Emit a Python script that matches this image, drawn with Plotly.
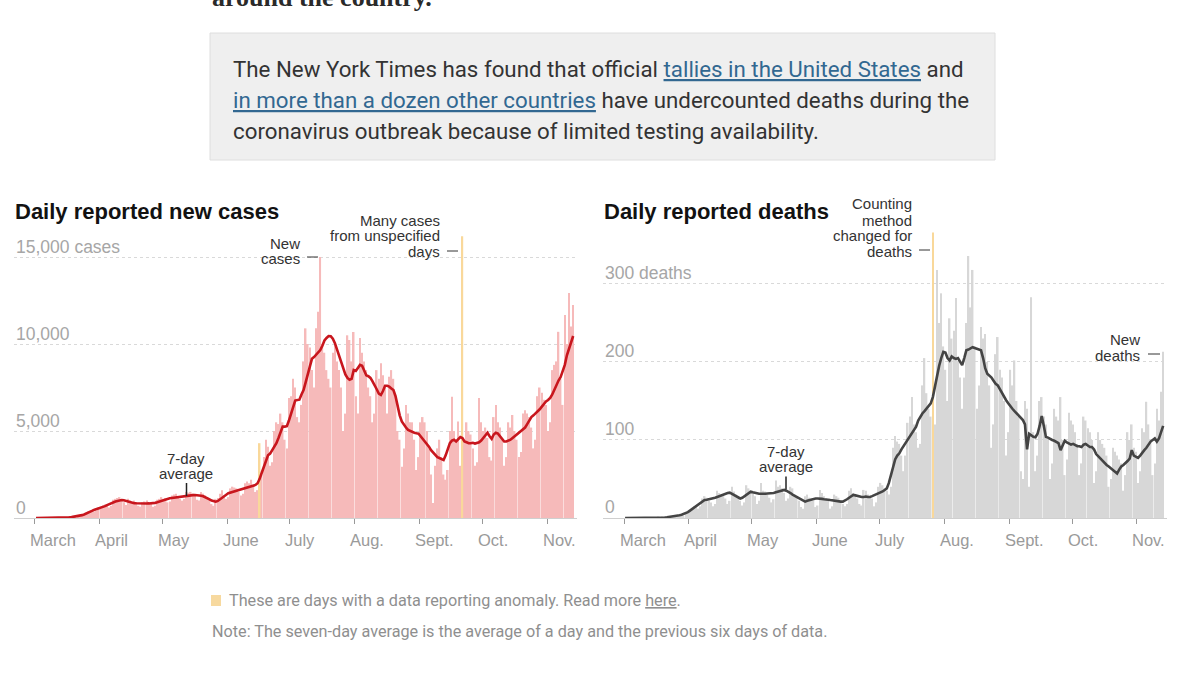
import pandas as pd
import plotly.graph_objects as go

# ---------------- data (daily, starting Sunday 2020-03-01) ----------------
start_date = "2020-03-01"

cases_daily = [
    0, 0, 0, 0, 2, 3, 5,
    3, 4, 8, 10, 15, 20, 30,
    15, 20, 45, 60, 80, 120, 140,
    100, 140, 230, 300, 370, 400, 450,
    380, 420, 600, 650, 720, 780, 800,
    600, 700, 1050, 1100, 1150, 1200, 1000,
    900, 750, 1100, 1000, 900, 1000, 900,
    700, 650, 900, 950, 1000, 900, 800,
    650, 700, 1050, 1100, 1200, 1100, 1150,
    900, 950, 1300, 1350, 1400, 1250, 1100,
    1000, 1100, 1500, 1450, 1500, 1400, 1300,
    1050, 1000, 1500, 1400, 1300, 1200, 1100,
    800, 700, 1100, 1150, 1400, 1600, 1300,
    1100, 1200, 1700, 1800, 1750, 1700, 1500,
    1300, 1400, 2000, 2100, 2000, 2200, 1900,
    1500, 1600, 4300, 2500, 3500, 4500, 4100,
    3000, 3200, 5000, 5500, 5400, 6000, 5500,
    4500, 4000, 6900, 7000, 8000, 7500, 5800,
    5500, 6500, 9000, 10900, 10000, 9800, 8500,
    7500, 10900, 11860, 15000, 10000, 9500, 8500,
    8000, 7500, 9500, 10000, 9000, 8500, 7500,
    5000, 6000, 10500, 10230, 9000, 10690, 7000,
    6000, 10340, 9500, 9000, 8500, 7500, 7000,
    5500, 6000, 8500, 8000, 8900, 8200, 7500,
    6000, 8120, 8500, 8000, 7000, 5000, 4500,
    2950, 4000, 6500, 6000, 5500, 5500, 4500,
    2760, 3500, 5500, 5800, 5500, 5000, 4000,
    2500, 860, 3000, 4000, 4500, 3500, 2500,
    2200, 2760, 5000, 6970, 5000, 4500, 5540,
    3000, 16200, 4500, 5500, 5000, 4800, 4000,
    3000, 3200, 6900, 5500, 5000, 5200, 4600,
    3500, 3300, 5800, 6500, 5500, 5200, 4500,
    3000, 3500, 5500, 5200, 5920, 5000, 4500,
    3500, 3800, 6000, 6200, 6000, 5800, 5200,
    4000, 4500, 7000, 7500, 7200, 6800, 6500,
    5000, 5500, 8500, 8800, 9000, 10700, 8000,
    6500, 11670, 10000, 12930, 11000, 12240,
]

cases_avg = [
    0, 0, 0, 0, 1, 2, 3,
    4, 5, 6, 8, 12, 16, 20,
    24, 30, 38, 50, 65, 82, 100,
    130, 165, 205, 250, 300, 360, 420,
    480, 520, 545, 565, 620, 680, 740,
    800, 860, 910, 950, 980, 1010, 1030,
    1020, 990, 950, 900, 860, 850, 845,
    835, 830, 828, 830, 835, 838, 840,
    850, 870, 900, 940, 1000, 1040, 1080,
    1110, 1130, 1150, 1170, 1185, 1200, 1215,
    1230, 1245, 1260, 1280, 1300, 1315, 1320,
    1315, 1300, 1280, 1250, 1200, 1140, 1070,
    1000, 960, 940, 980, 1080, 1180, 1260,
    1340, 1420, 1460, 1500, 1540, 1570, 1600,
    1630, 1660, 1700, 1740, 1780, 1820, 1860,
    1900, 2000, 2250, 2600, 2950, 3300, 3600,
    3700, 3900, 4100, 4300, 4600, 4950, 5250,
    5250, 5280, 5600, 6000, 6400, 6750, 6780,
    6800, 7100, 7350, 7800, 8300, 8800, 9150,
    9250, 9400, 9500, 9650, 9900, 10200, 10350,
    10460, 10450, 10300, 10050, 9700, 9300, 8900,
    8550, 8250, 8050, 7950, 8000, 8500, 8450,
    8650, 8800, 8750, 8500, 8200, 8150, 8050,
    7850, 7650, 7400, 7150, 7070, 7300, 7600,
    7600, 7550, 7450, 7350, 7000, 6400, 5900,
    5550, 5350, 5200, 5060, 5000, 4950, 4900,
    4870, 4850, 4700, 4550, 4400, 4300, 4100,
    3900, 3750, 3600, 3500, 3450, 3400, 3330,
    3600, 4000, 4300, 4450, 4500, 4400, 4550,
    4650, 4600, 4400, 4350, 4300, 4300, 4320,
    4280, 4300, 4350, 4450, 4600, 4750, 4900,
    4700, 4550, 4800, 4900, 4850, 4700, 4500,
    4400, 4400, 4450, 4500, 4600, 4700, 4750,
    4850, 4950, 5060, 5200, 5400, 5600, 5800,
    5900, 6000, 6100, 6250, 6400, 6550, 6700,
    6780, 6900, 7100, 7400, 7700, 7900, 8100,
    8400, 8800, 9350, 9700, 10100, 10460,
]

deaths_daily = [
    0, 0, 0, 0, 0, 0, 0,
    0, 0, 0, 0, 0, 0, 0,
    0, 0, 1, 0, 1, 1, 1,
    1, 2, 2, 3, 3, 4, 5,
    3, 5, 8, 10, 12, 15, 16,
    12, 15, 25, 28, 26, 22, 20,
    15, 18, 35, 32, 30, 28, 25,
    18, 22, 40, 34, 30, 28, 22,
    16, 20, 42, 38, 35, 33, 28,
    18, 22, 45, 35, 34, 30, 26,
    20, 24, 48, 40, 42, 38, 32,
    22, 25, 40, 38, 30, 28, 22,
    14, 12, 28, 30, 26, 25, 22,
    14, 16, 36, 32, 28, 25, 22,
    12, 15, 30, 28, 26, 22, 18,
    15, 18, 35, 38, 32, 30, 25,
    18, 16, 36, 35, 30, 28, 25,
    15, 20, 40, 45, 42, 38, 35,
    30, 40, 90, 105, 98, 95, 80,
    60, 80, 122, 130, 155, 120, 110,
    90, 95, 170, 205, 160, 140, 130,
    675, 120, 318, 250, 288, 220, 190,
    150, 256, 230, 240, 282, 200, 180,
    140, 180, 250, 336, 270, 318, 220,
    140, 170, 245, 230, 236, 200, 170,
    90, 120, 210, 232, 190, 180, 150,
    80, 110, 190, 170, 202, 150, 130,
    60, 50, 150, 140, 40, 283, 110,
    60, 80, 150, 155, 130, 120, 100,
    50, 70, 140, 130, 125, 155, 100,
    55, 75, 135, 125, 120, 110, 95,
    55, 70, 130, 125, 115, 110, 100,
    45, 60, 110, 100, 95, 90, 80,
    40, 50, 90, 85, 80, 75, 70,
    35, 55, 110, 100, 120, 90, 85,
    45, 60, 115, 110, 149, 120, 100,
    55, 70, 140, 125, 162, 213,
]

deaths_avg = [
    0, 0, 0, 0, 0, 0, 0,
    0, 0, 0, 0, 0, 0, 0,
    0, 0, 0.2, 0.3, 0.5, 0.7, 1,
    1.3, 1.6, 2, 2.5, 3, 3.6, 4.2,
    5, 6, 7.5, 9.5, 11.5, 13.5, 15.5,
    18, 20, 22, 23, 23.5, 24, 25,
    25, 26, 27, 28, 29, 30, 31.6,
    32, 32.5, 31, 29, 27, 26, 25,
    26, 28, 30, 32, 33.8, 33, 32,
    31.5, 31, 31, 30.8, 31, 31.5, 31.6,
    31.6, 32, 33, 34, 35, 35.9, 36,
    35, 34, 32, 30, 28.5, 27, 26,
    24, 22, 21, 22, 23, 24, 24.5,
    25, 25, 25, 24.5, 24, 24, 23.5,
    23, 22.5, 22, 22, 21.5, 21, 21,
    22, 24, 26, 28, 29.5, 29, 28,
    27.5, 27, 27, 27.5, 27, 27, 28,
    29, 30, 31, 32, 34, 36, 38,
    45, 55, 65, 75, 80, 83, 88,
    92, 96, 100, 104, 108, 112, 117,
    125, 130, 134, 137, 140, 144, 147,
    155, 170, 185, 195, 205, 213, 212,
    205, 202, 207, 205, 204, 205, 200,
    196, 205, 215, 216, 217, 219, 218,
    217, 216, 215, 205, 192, 185, 183,
    180, 176, 172, 170, 165, 160, 155,
    151, 147, 143, 140, 137, 134, 131,
    128, 125.6, 120, 88, 108, 106, 104,
    103.5, 108, 118, 130.8, 118, 104, 103,
    101, 100, 99, 98, 96, 87, 93,
    99, 97, 95, 94, 95, 93, 92,
    92, 91, 94, 95, 93, 91, 91,
    88, 82, 79, 76, 73, 70, 68,
    66, 64, 62, 59, 57, 62, 66,
    68, 70, 73, 76, 87, 80, 78,
    77, 80, 84, 87, 90, 94, 98,
    100, 102, 98, 102, 110, 118,
]

cases_anomaly_dates = ["2020-06-16", "2020-09-21"]
deaths_anomaly_dates = ["2020-07-26"]

month_ticks = ["2020-03-01", "2020-04-01", "2020-05-01", "2020-06-01", "2020-07-01",
               "2020-08-01", "2020-09-01", "2020-10-01", "2020-11-01"]
month_labels = ["March", "April", "May", "June", "July", "Aug.", "Sept.", "Oct.", "Nov."]

cases_yticks = [0, 5000, 10000, 15000]
cases_ylabels = ["0", "5,000", "10,000", "15,000 cases"]
deaths_yticks = [0, 100, 200, 300]
deaths_ylabels = ["0", "100", "200", "300 deaths"]

# ---------------- helpers ----------------
W, H = 1200, 675
def px(x):
    return x / W
def py(y):
    return 1 - y / H

dates = pd.date_range(start_date, periods=len(cases_daily), freq="D")
x_mid = dates + pd.Timedelta(hours=12)

def split(values, anomalies):
    idx = {dates.get_loc(pd.Timestamp(d)) for d in anomalies}
    normal = [None if i in idx else v for i, v in enumerate(values)]
    special = [v if i in idx else None for i, v in enumerate(values)]
    return normal, special

cases_normal, cases_special = split(cases_daily, cases_anomaly_dates)
deaths_normal, deaths_special = split(deaths_daily, deaths_anomaly_dates)

SANS = "Liberation Sans, Arial, Helvetica, sans-serif"
BODY = "Roboto, Liberation Sans, sans-serif"
PINK = "#f6baba"
RED = "#c8161d"
GREYBAR = "#d7d7d7"
DARK = "#444444"
YELLOW = "#f9d89a"

fig = go.Figure()
fig.add_trace(go.Bar(x=x_mid, y=cases_normal, marker_color=PINK, marker_line_width=0,
                     xaxis="x", yaxis="y", hoverinfo="skip"))
fig.add_trace(go.Bar(x=x_mid, y=cases_special, marker_color=YELLOW, marker_line_width=0,
                     xaxis="x", yaxis="y", hoverinfo="skip"))
fig.add_trace(go.Scatter(x=x_mid, y=cases_avg, mode="lines", line=dict(color=RED, width=2.6),
                         xaxis="x", yaxis="y", hoverinfo="skip"))
fig.add_trace(go.Bar(x=x_mid, y=deaths_normal, marker_color=GREYBAR, marker_line_width=0,
                     xaxis="x2", yaxis="y2", hoverinfo="skip"))
fig.add_trace(go.Bar(x=x_mid, y=deaths_special, marker_color=YELLOW, marker_line_width=0,
                     xaxis="x2", yaxis="y2", hoverinfo="skip"))
fig.add_trace(go.Scatter(x=x_mid, y=deaths_avg, mode="lines", line=dict(color=DARK, width=2.6),
                         xaxis="x2", yaxis="y2", hoverinfo="skip"))

xrange = ["2020-02-19 23:00", "2020-11-15 08:00"]
xcommon = dict(type="date", range=xrange, tickvals=month_ticks, showticklabels=False,
               ticks="outside", ticklen=5, tickcolor="#999", tickwidth=1,
               showline=True, linecolor="#cfcfcf", linewidth=1, showgrid=False,
               zeroline=False, fixedrange=True)
ycommon = dict(showticklabels=False, ticks="", showgrid=True, gridcolor="#d9d9d9",
               griddash="dot", gridwidth=1, zeroline=False, fixedrange=True)

bottom = py(518)
fig.update_layout(
    width=W, height=H, margin=dict(l=0, r=0, t=0, b=0),
    paper_bgcolor="white", plot_bgcolor="white", showlegend=False,
    barmode="overlay", bargap=0.25,
    xaxis=dict(domain=[px(14), px(577)], anchor="y", **xcommon),
    yaxis=dict(domain=[bottom, py(234.4)], range=[0, 16300], tickvals=cases_yticks[1:],
               anchor="x", **ycommon),
    xaxis2=dict(domain=[px(603), px(1167)], anchor="y2", **xcommon),
    yaxis2=dict(domain=[bottom, py(232.5)], range=[0, 366], tickvals=deaths_yticks[1:],
                anchor="x2", **ycommon),
)

ann = []
shapes = []

def text(t, x, y, size, color="#333", xanchor="left", family=SANS, yanchor="middle"):
    ann.append(dict(text=t, x=px(x), y=py(y), xref="paper", yref="paper",
                    xanchor=xanchor, yanchor=yanchor, showarrow=False,
                    font=dict(size=size, color=color, family=family)))

def seg(x0, y0, x1, y1, color="#333", width=1):
    shapes.append(dict(type="line", xref="paper", yref="paper", x0=px(x0), y0=py(y0),
                       x1=px(x1), y1=py(y1), line=dict(color=color, width=width)))

# top of page (cut off by the top edge, as in the page screenshot)
text("<b>around the country.</b>", 210, 14, 26, color="#2a2a2a",
     family="Liberation Serif, DejaVu Serif, serif", yanchor="bottom")

# grey box
shapes.append(dict(type="rect", xref="paper", yref="paper", x0=px(210), x1=px(995),
                   y0=py(160), y1=py(33), fillcolor="#efefef",
                   line=dict(color="#dedede", width=1), layer="below"))
LINK = '<span style="color:#326891;text-decoration:underline">%s</span>'
text("The New York Times has found that official " + (LINK % "tallies in the United States") + " and",
     231, 69, 22.3, color="#333", family=BODY)
text((LINK % "in more than a dozen other countries") + " have undercounted deaths during the",
     231, 100, 22.3, color="#333", family=BODY)
text("coronavirus outbreak because of limited testing availability.",
     231, 131, 22.3, color="#333", family=BODY)

# titles
text("<b>Daily reported new cases</b>", 13, 211.5, 22, color="#121212")
text("<b>Daily reported deaths</b>", 602, 211.5, 22, color="#121212")

# y labels sitting above the gridlines
for v, lab in zip(cases_yticks, cases_ylabels):
    ann.append(dict(text=lab, x=px(14), y=v, xref="paper", yref="y", xanchor="left",
                    yanchor="middle", yshift=10.5, showarrow=False,
                    font=dict(size=17.5, color="#a6a6a6", family=SANS)))
for v, lab in zip(deaths_yticks, deaths_ylabels):
    ann.append(dict(text=lab, x=px(603), y=v, xref="paper", yref="y2", xanchor="left",
                    yanchor="middle", yshift=11, showarrow=False,
                    font=dict(size=17.5, color="#a6a6a6", family=SANS)))

# x labels
for xr in ("x", "x2"):
    for d, lab in zip(month_ticks, month_labels):
        ann.append(dict(text=lab, x=d, y=py(540), xref=xr, yref="paper", xanchor="left",
                        yanchor="middle", xshift=-6.5, showarrow=False,
                        font=dict(size=16.5, color="#9a9a9a", family=SANS)))

# chart call-outs
ANN = 15
text("New", 302, 243, ANN, xanchor="right")
text("cases", 302, 259, ANN, xanchor="right")
seg(307, 257, 318, 257)

text("Many cases", 442, 220, ANN, xanchor="right")
text("from unspecified", 442, 235.5, ANN, xanchor="right")
text("days", 442, 251, ANN, xanchor="right")
seg(447, 251, 458, 251)

text("7-day", 186, 458, ANN, xanchor="center")
text("average", 186, 473.5, ANN, xanchor="center")
seg(186.5, 483, 186.5, 496, color="#222", width=1.5)

text("Counting", 914, 204, ANN, xanchor="right")
text("method", 914, 220, ANN, xanchor="right")
text("changed for", 914, 235.5, ANN, xanchor="right")
text("deaths", 914, 251, ANN, xanchor="right")
seg(919, 250, 930, 250)

text("New", 1142, 339, ANN, xanchor="right")
text("deaths", 1142, 355, ANN, xanchor="right")
seg(1148, 354, 1160, 354)

text("7-day", 785.5, 451, ANN, xanchor="center")
text("average", 785.5, 466.5, ANN, xanchor="center")
seg(786, 476.5, 786, 489.5, color="#222", width=1.5)

# footnotes
shapes.append(dict(type="rect", xref="paper", yref="paper", x0=px(211), x1=px(221),
                   y0=py(606), y1=py(595), fillcolor="#f7d99f", line=dict(width=0)))
text('These are days with a data reporting anomaly. Read more <span style="text-decoration:underline">here</span>.',
     227, 600.5, 16.2, color="#8f8f8f", family=BODY)
text("Note: The seven-day average is the average of a day and the previous six days of data.",
     210, 631.5, 16.2, color="#8f8f8f", family=BODY)

fig.update_layout(annotations=ann, shapes=shapes)
fig.write_html("out.html")
